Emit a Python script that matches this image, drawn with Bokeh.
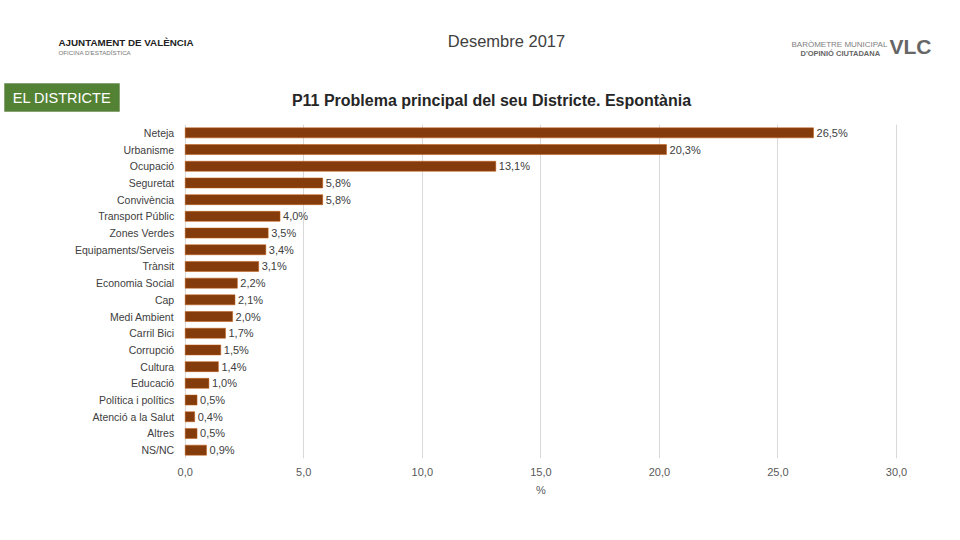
from bokeh.plotting import figure
from bokeh.models import FactorRange, Range1d, FixedTicker, Label, ColumnDataSource, BoxAnnotation
from bokeh.layouts import column
from bokeh.core.properties import value
from bokeh.embed import file_html
from bokeh.resources import INLINE

categories = ["Neteja", "Urbanisme", "Ocupació", "Seguretat", "Convivència",
              "Transport Públic", "Zones Verdes", "Equipaments/Serveis", "Trànsit",
              "Economia Social", "Cap", "Medi Ambient", "Carril Bici", "Corrupció",
              "Cultura", "Educació", "Política i polítics", "Atenció a la Salut",
              "Altres", "NS/NC"]
values = [26.5, 20.3, 13.1, 5.8, 5.8, 4.0, 3.5, 3.4, 3.1, 2.2, 2.1, 2.0, 1.7, 1.5,
          1.4, 1.0, 0.5, 0.4, 0.5, 0.9]
x_ticks = [0, 5, 10, 15, 20, 25, 30]
x_tick_labels = ["0,0", "5,0", "10,0", "15,0", "20,0", "25,0", "30,0"]
x_max = 30
x_title = "%"

FONT = "Liberation Sans"
W, H = 944, 524
HEAD_H = 118
FOOT_H = 42
PLOT_L, PLOT_R = 184.7, 896.0   # pixel extent of the value axis 0..x_max


def blank(height):
    f = figure(width=W, height=height, output_backend="svg", toolbar_location=None,
               x_range=Range1d(0, W), y_range=Range1d(height, 0),
               x_axis_location=None, y_axis_location=None,
               min_border_left=0, min_border_right=0,
               min_border_top=0, min_border_bottom=0)
    f.outline_line_color = None
    f.xgrid.visible = False
    f.ygrid.visible = False
    return f


def lab(f, text, x, y, size, color="#404040", bold=False, align="left"):
    f.add_layout(Label(x=x, y=y, text=text, text_font=FONT, text_font_size=size,
                       text_color=color, text_align=align, text_baseline="middle",
                       text_font_style="bold" if bold else "normal"))


# ---------- header (titles, logos, section box) ----------
h = blank(HEAD_H)
lab(h, "Desembre 2017", 506, 40, "16.5px", "#404040", align="center")
lab(h, "P11 Problema principal del seu Districte. Espontània", 491, 100, "16px",
    "#262626", bold=True, align="center")
h.add_layout(BoxAnnotation(left=4, right=119, top=83, bottom=111,
                           fill_color="#548235", fill_alpha=1.0,
                           line_color="#3B5E25", line_width=1))
lab(h, "EL DISTRICTE", 61.5, 97.5, "14.5px", "white", align="center")
lab(h, "AJUNTAMENT DE VALÈNCIA", 58, 42, "9.8px", "#222222", bold=True)
lab(h, "OFICINA D'ESTADÍSTICA", 58, 52, "6.2px", "#777777")
lab(h, "BARÒMETRE MUNICIPAL", 791, 44, "8px", "#808080")
lab(h, "D'OPINIÓ CIUTADANA", 800, 53, "7.5px", "#666666", bold=True)
lab(h, "VLC", 889, 46, "21px", "#666666", bold=True)

# ---------- chart ----------
k = (PLOT_R - PLOT_L) / x_max
CH = H - HEAD_H - FOOT_H
p = figure(width=W, height=CH, output_backend="svg", toolbar_location=None,
           y_range=FactorRange(factors=list(reversed(categories))),
           x_range=Range1d(-PLOT_L / k, (W - PLOT_L) / k),
           y_axis_location=None,
           min_border_left=0, min_border_right=0, min_border_top=6,
           min_border_bottom=24)
p.outline_line_color = None

src = ColumnDataSource(dict(cat=categories, val=values, zero=[0] * len(values),
                            lab=[("%.1f" % v).replace(".", ",") + "%" for v in values]))
p.hbar(y="cat", right="val", left="zero", height=0.6, source=src,
       fill_color="#843C0C", line_color="#C55A11", line_width=0.5)
p.text(x="val", y="cat", text="lab", source=src, x_offset=3,
       text_baseline="middle", text_align="left", text_font=value(FONT),
       text_font_size="11px", text_color="#404040")
# category labels, anchored at the value axis origin
p.text(x="zero", y="cat", text="cat", source=src, x_offset=-11,
       text_baseline="middle", text_align="right", text_font=value(FONT),
       text_font_size="10.5px", text_color="#404040")

p.xaxis.ticker = FixedTicker(ticks=x_ticks)
p.xaxis.major_label_overrides = {t: l for t, l in zip(x_ticks, x_tick_labels)}
p.xaxis.axis_line_color = None
p.xaxis.major_tick_line_color = None
p.xaxis.minor_tick_line_color = None
p.xaxis.major_label_standoff = 3
p.xaxis.major_label_text_font_size = "11px"
p.xaxis.major_label_text_font = FONT
p.xaxis.major_label_text_color = "#595959"

p.xgrid.grid_line_color = "#d9d9d9"
p.ygrid.grid_line_color = None

# ---------- footer (value-axis title, centred under the axis) ----------
ft = blank(FOOT_H)
lab(ft, x_title, (PLOT_L + PLOT_R) / 2, 7, "11px", "#595959", align="center")

layout = column(h, p, ft, spacing=0)
open("out.html", "w").write(file_html(layout, INLINE))
